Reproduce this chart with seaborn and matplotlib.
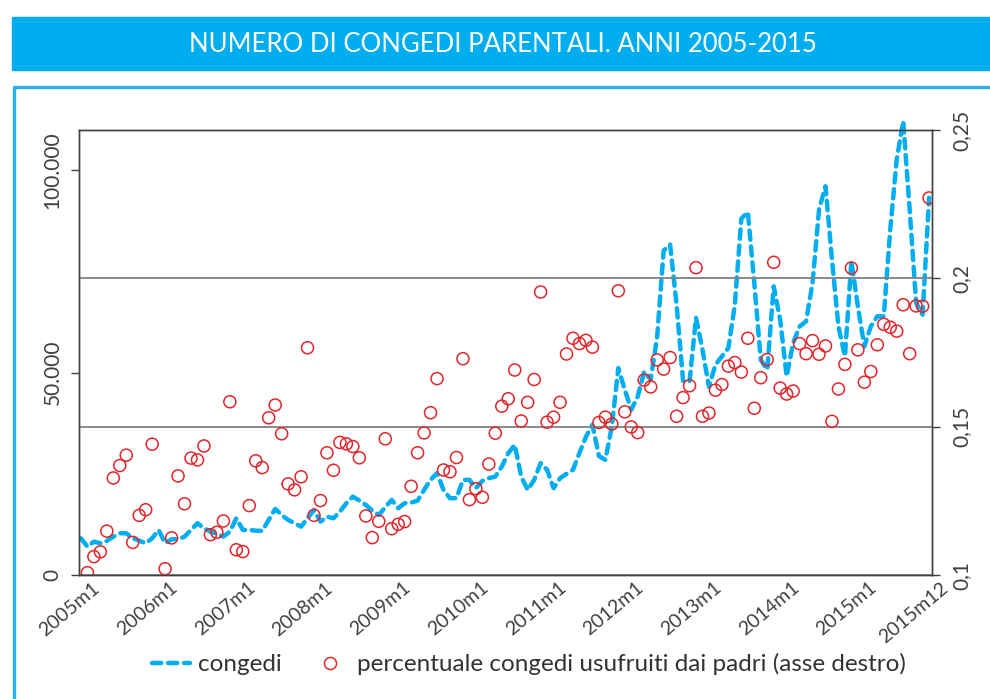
import numpy as np
import pandas as pd
import seaborn as sns
import matplotlib.pyplot as plt
import matplotlib.transforms as mtransforms
from matplotlib.lines import Line2D
from matplotlib.patches import Rectangle

sns.set_theme(style='white')
plt.rcParams['font.family'] = ['Lato', 'DejaVu Sans']

# monthly values 2005m1 .. 2015m12
congedi = [
    9080, 7000, 8240, 7850, 8420, 9480, 10320, 10320, 9080, 8490, 7850, 9080,
    11140, 7850, 8840, 8840, 9480, 11140, 12800, 11560, 10720, 10150, 9480, 10720,
    14030, 11140, 11140, 10960, 10890, 13610, 16340, 14850, 13610, 12800, 11950, 14030,
    16090, 13190, 14430, 14030, 15670, 17750, 19380, 18390, 17330, 15910, 14850, 16760,
    18560, 16510, 17750, 17890, 18390, 21040, 23510, 25170, 21040, 18980, 18980, 23510,
    23510, 21460, 23270, 23930, 24330, 26800, 30120, 32180, 24330, 21040, 23510, 27650,
    25990, 21460, 23930, 25000, 25990, 30200, 34160, 37130, 29450, 28460, 36700, 51160,
    45790, 40840, 44130, 50320, 48260, 58980, 80190, 81680, 66830, 48020, 47770, 63610,
    55690, 46530, 51980, 54030, 56110, 66830, 88110, 89720, 72200, 53210, 50740, 71350,
    63110, 49080, 57350, 61450, 62690, 72200, 90340, 96100, 77960, 61450, 54030, 77540,
    66400, 56500, 61450, 63930, 63930, 85390, 102710, 112190, 90340, 67250, 64350, 93230,
]

quota_padri = [
    np.nan, .1008, .1062, .1078, .1148, .1327, .1369, .1404, .1110, .1201, .1220, .1441,
    np.nan, .1021, .1125, .1334, .1240, .1394, .1388, .1435, .1136, .1144, .1182, .1584,
    .1085, .1079, .1234, .1385, .1362, .1530, .1573, .1476, .1307, .1287, .1331, .1766,
    .1201, .1251, .1412, .1353, .1447, .1442, .1433, .1395, .1199, .1126, .1181, .1459,
    .1156, .1171, .1180, .1299, .1412, .1479, .1547, .1662, .1354, .1348, .1396, .1729,
    .1254, .1291, .1262, .1374, .1478, .1569, .1594, .1691, .1519, .1582, .1659, .1954,
    .1515, .1532, .1582, .1745, .1798, .1780, .1791, .1768, .1514, .1532, .1509, .1958,
    .1550, .1499, .1480, .1657, .1634, .1725, .1694, .1733, .1535, .1598, .1638, .2036,
    .1535, .1546, .1623, .1642, .1704, .1716, .1684, .1798, .1562, .1665, .1726, .2054,
    .1630, .1610, .1620, .1780, .1746, .1790, .1744, .1772, .1518, .1627, .1710, .2035,
    .1759, .1650, .1686, .1776, .1845, .1835, .1822, .1911, .1746, .1907, .1906, .2271,
]

x_labels = ['2005m1', '2006m1', '2007m1', '2008m1', '2009m1', '2010m1',
            '2011m1', '2012m1', '2013m1', '2014m1', '2015m1', '2015m12']
x_label_month = [0, 12, 24, 36, 48, 60, 72, 84, 96, 108, 120, 131]
left_ticks = [0, 50000, 100000]
left_labels = ['0', '50.000', '100.000']
right_ticks = [0.1, 0.15, 0.2, 0.25]
right_labels = ['0,1', '0,15', '0,2', '0,25']

blue = '#00AEEF'
red = '#E3262B'
grey = '#404040'

df = pd.DataFrame({'mese': np.arange(len(congedi)), 'congedi': congedi, 'padri': quota_padri})

fig = plt.figure(figsize=(9.9, 6.99), dpi=100)

# title banner and the blue frame around the chart
fig.add_artist(Rectangle((12 / 990, 1 - 70 / 699), 1, 53 / 699, transform=fig.transFigure,
                         color=blue, zorder=0))
fig.text(503 / 990, 1 - 44 / 699, 'NUMERO DI CONGEDI PARENTALI. ANNI 2005-2015',
         color='white', fontsize=18.5, ha='center', va='center')
fig.add_artist(Line2D([13.5 / 990, 13.5 / 990, 1], [0, 1 - 86.5 / 699, 1 - 86.5 / 699],
                      transform=fig.transFigure, color='#29B0EA', lw=2.4))

ax = fig.add_axes([79 / 990, 1 - 575 / 699, (932 - 79) / 990, (575 - 130) / 699])
ax2 = ax.twinx()

sns.lineplot(data=df, x='mese', y='congedi', ax=ax, color=blue, lw=3.2, legend=False)
line = ax.lines[0]
line.set_linestyle((0, (2.1, 1.5)))
line.set_dash_capstyle('round')
line.set_clip_on(False)

sns.scatterplot(data=df, x='mese', y='padri', ax=ax2, marker='o', s=75,
                facecolor='none', edgecolor=red, linewidth=1.1, legend=False)

ax.set_xlim(-0.3, 131.45)
ax.set_ylim(0, 110000)
ax2.set_ylim(0.1, 0.25)

ax.set_xticks(x_label_month, x_labels, rotation=40, ha='right', va='top',
              rotation_mode='anchor')
ax.set_yticks(left_ticks, left_labels, rotation=90, va='center')
ax2.set_yticks(right_ticks, right_labels, rotation=90, va='center')
ax.set_xlabel('')
ax.set_ylabel('')
ax2.set_ylabel('')

ax.tick_params(axis='x', length=0, labelsize=14, labelcolor=grey, pad=3)
ax.tick_params(axis='y', direction='out', length=6, width=1, color=grey,
               labelsize=15, labelcolor=grey, pad=6)
ax2.tick_params(axis='y', direction='out', length=6, width=1, color=grey,
                labelsize=15, labelcolor=grey, pad=8)

offset = mtransforms.ScaledTranslation(11 / 100, 0, fig.dpi_scale_trans)
for lbl in ax.get_xticklabels():
    lbl.set_transform(lbl.get_transform() + offset)

for a in (ax, ax2):
    for s in a.spines.values():
        s.set_color(grey)
        s.set_linewidth(1)
ax.grid(False)
ax2.grid(axis='y', color='#808080', lw=1.3)

handles = [
    Line2D([], [], color=blue, lw=3.2, linestyle=(0, (2.1, 1.5)), dash_capstyle='round'),
    Line2D([], [], ls='none', marker='o', ms=8.7, mfc='none', mec=red, mew=1.1),
]
leg = fig.legend(handles, ['congedi', 'percentuale congedi usufruiti dai padri (asse destro)'],
                 loc='center', bbox_to_anchor=(0.534, 1 - 664 / 699), ncol=2, frameon=False,
                 fontsize=17.5, handlelength=1.6, columnspacing=1.2, handletextpad=0.3)
for t in leg.get_texts():
    t.set_color('#333333')

fig.savefig('out.png', dpi=100)
